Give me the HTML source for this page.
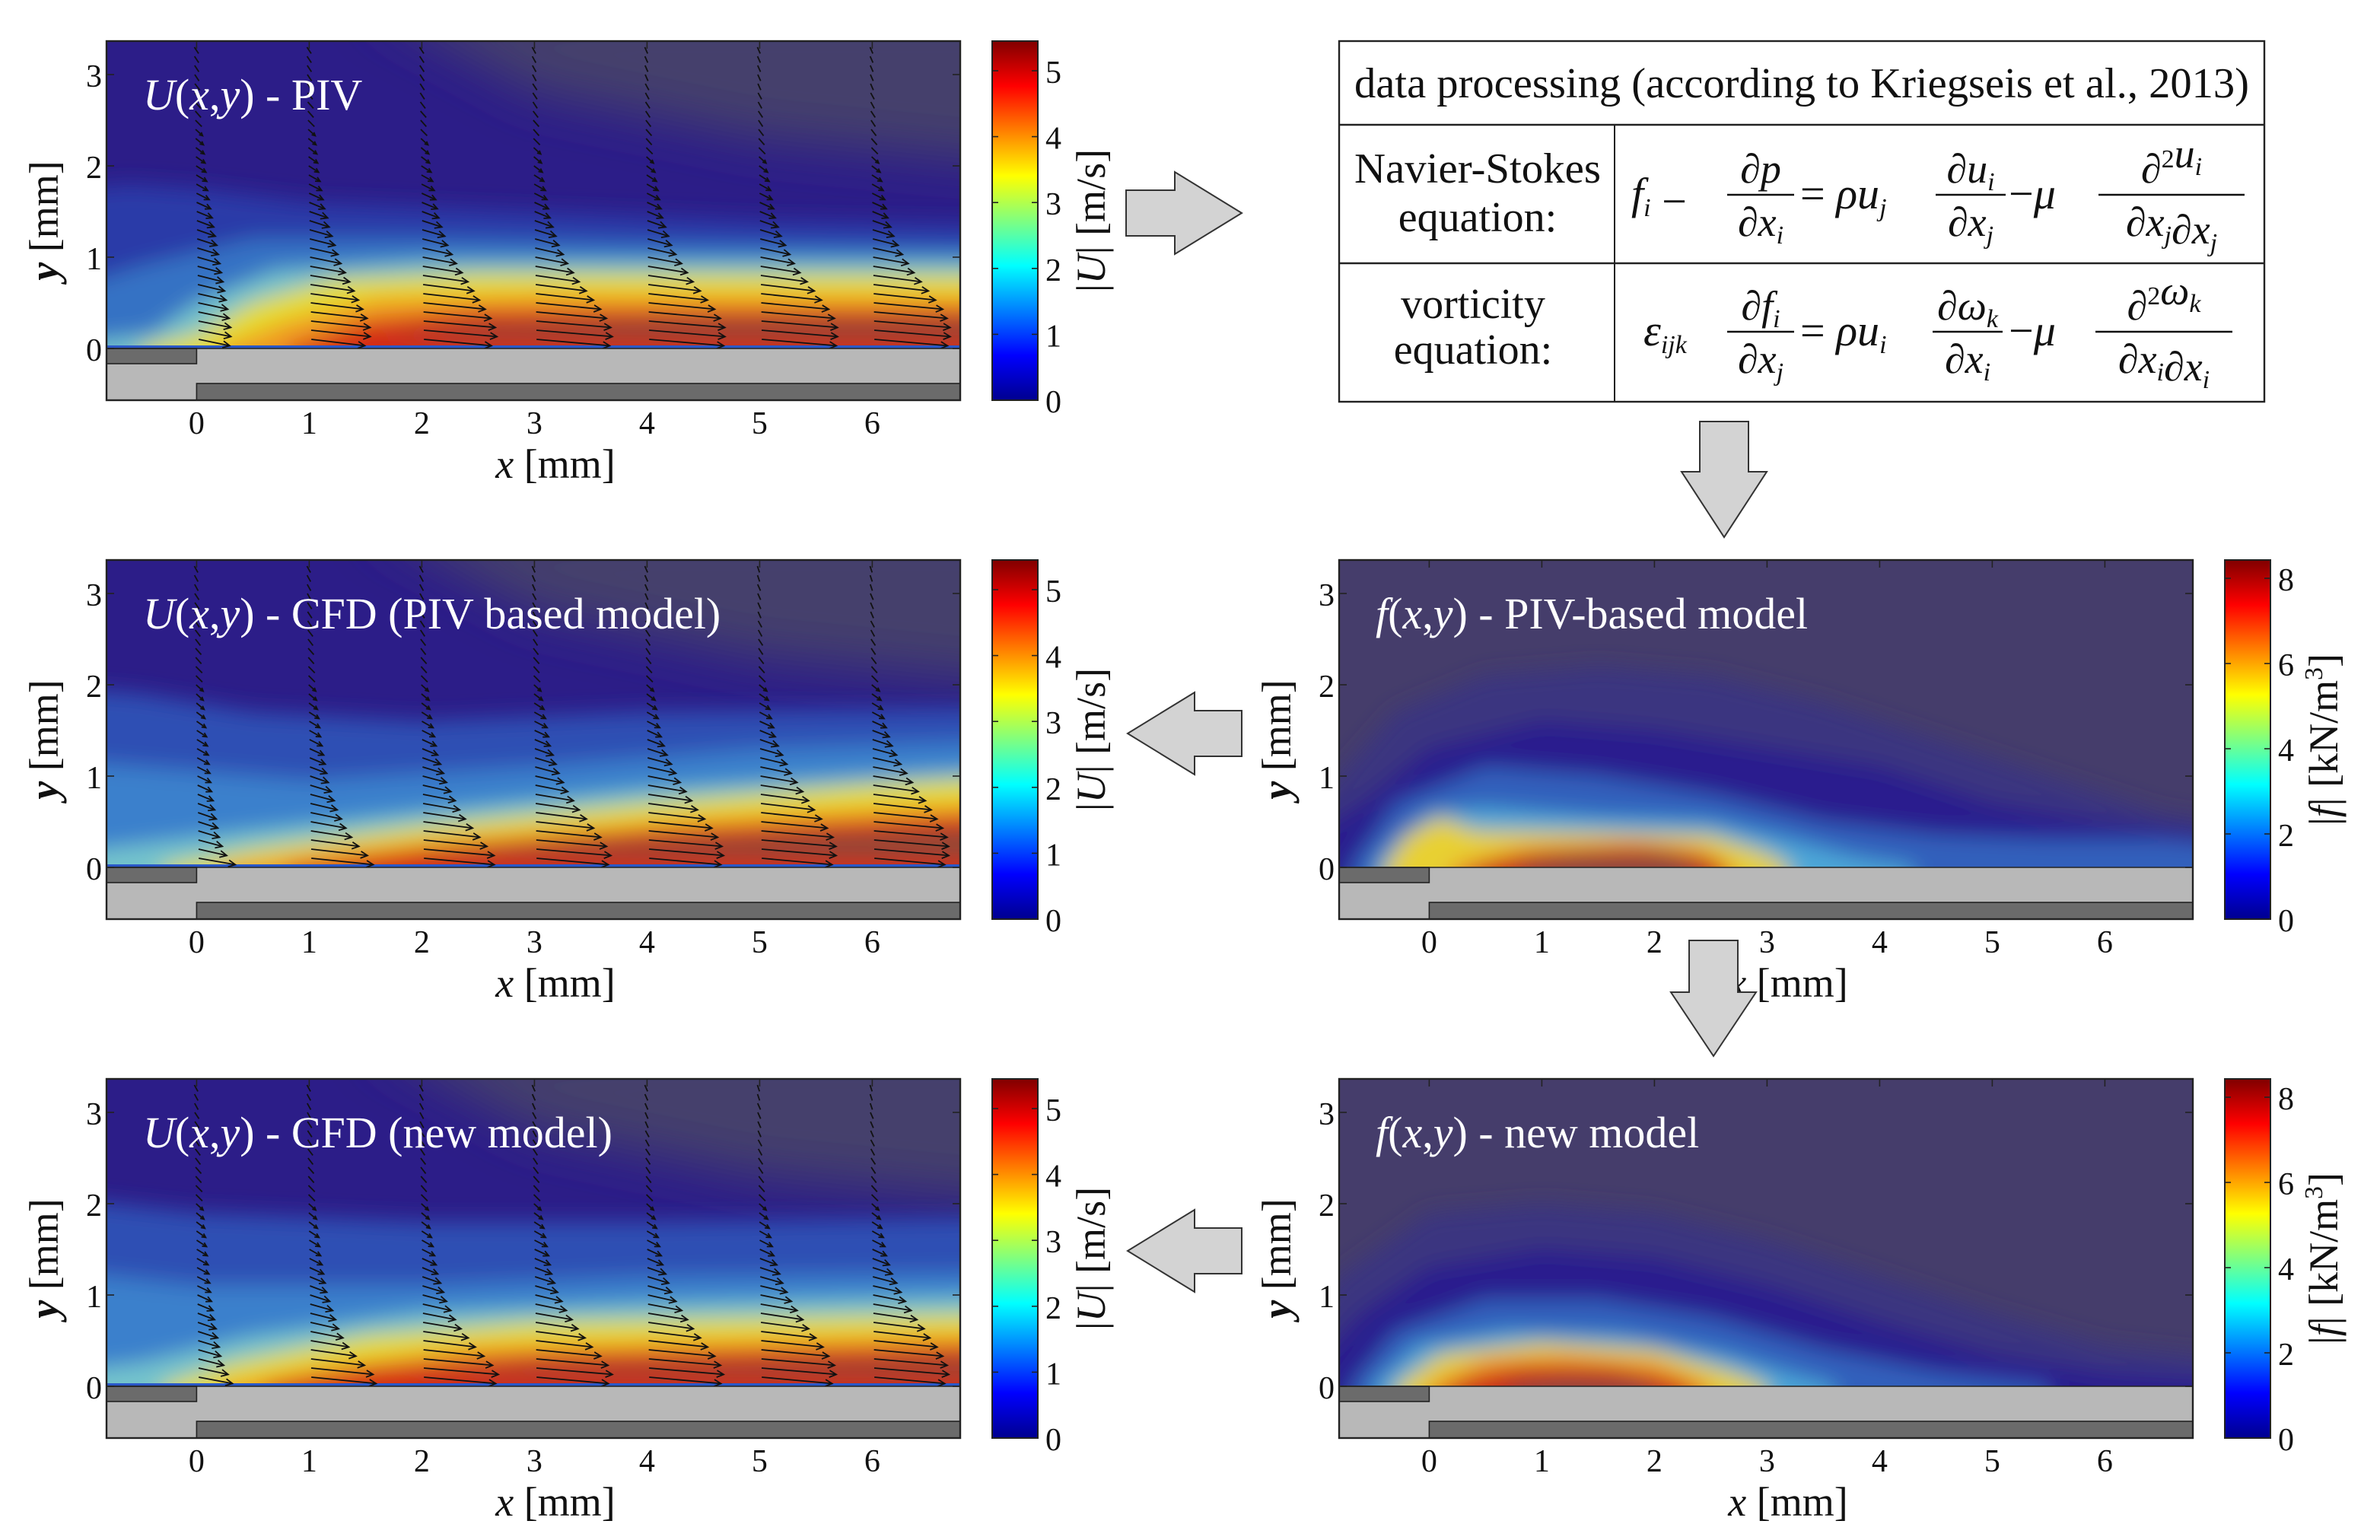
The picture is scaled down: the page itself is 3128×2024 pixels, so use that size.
<!DOCTYPE html>
<html><head><meta charset="utf-8">
<style>
html,body{margin:0;padding:0;background:#fff;}
svg{display:block;}
text{font-family:"Liberation Serif",serif;}
</style></head>
<body>
<svg id="fig" width="3128" height="2024" viewBox="0 0 1564 1012" xmlns="http://www.w3.org/2000/svg">
<defs>
<filter id="blur" x="-20%" y="-20%" width="140%" height="140%"><feGaussianBlur stdDeviation="7"/></filter>
<filter id="blur2" x="-20%" y="-20%" width="140%" height="140%"><feGaussianBlur stdDeviation="16"/></filter>
<linearGradient id="jet" x1="0" y1="1" x2="0" y2="0">
<stop offset="0" stop-color="#00008f"/><stop offset="0.125" stop-color="#0000ff"/><stop offset="0.375" stop-color="#00ffff"/><stop offset="0.625" stop-color="#ffff00"/><stop offset="0.875" stop-color="#ff0000"/><stop offset="1" stop-color="#800000"/>
</linearGradient>
</defs>
</svg>
<script>
// ---- data ----
const xTicks = [0,1,2,3,4,5,6];
const yTicks = [0,1,2,3];
const uTicks = [0,1,2,3,4,5];
const fTicks = [0,2,4,6,8];
const uMax = 5.45;
const fMax = 8.43;
const quiverX = [0,1,2,3,4,5,6];
const quiverY = [0.1,0.2,0.3,0.4,0.5,0.6,0.7,0.8,0.9,1.0,1.1,1.2,1.3,1.4,1.5,1.6,1.7,1.8,1.9,2.0,2.1,2.2,2.3,2.4,2.5,2.6,2.7,2.8,2.9,3.0,3.1,3.2,3.3];
// PIV velocity profiles (m/s), bottom to top, per column
const pivU0 = [2.2,2.3,2.3,2.2,2.1,2.0,1.9,1.8,1.7,1.6,1.5,1.4,1.3,1.2,1.1,1.0,0.9,0.8,0.75,0.7,0.65,0.6,0.55,0.5,0.45,0.4,0.4,0.35,0.35,0.3,0.3,0.3,0.3];
const pivU1 = [3.8,4.2,4.2,4.0,3.7,3.4,3.1,2.8,2.5,2.2,2.0,1.8,1.6,1.4,1.3,1.1,1.0,0.9,0.8,0.7,0.65,0.6,0.55,0.5,0.45,0.4,0.4,0.35,0.3,0.3,0.3,0.3,0.3];
const pivU2 = [4.8,5.2,5.1,4.8,4.4,4.0,3.6,3.2,2.8,2.4,2.1,1.8,1.6,1.4,1.2,1.1,1.0,0.9,0.8,0.7,0.6,0.55,0.5,0.45,0.4,0.4,0.35,0.3,0.3,0.3,0.3,0.3,0.3];
const pivU3 = [5.2,5.4,5.3,5.0,4.6,4.1,3.6,3.1,2.7,2.3,2.0,1.7,1.5,1.3,1.1,1.0,0.9,0.8,0.7,0.6,0.55,0.5,0.45,0.4,0.4,0.35,0.3,0.3,0.3,0.25,0.25,0.25,0.25];
const pivU4 = [5.3,5.4,5.4,5.1,4.7,4.2,3.7,3.2,2.8,2.4,2.0,1.7,1.5,1.3,1.1,1.0,0.9,0.8,0.7,0.6,0.5,0.45,0.4,0.4,0.35,0.3,0.3,0.25,0.25,0.2,0.2,0.2,0.2];
const pivU5 = [5.3,5.4,5.4,5.2,4.8,4.3,3.8,3.3,2.8,2.4,2.1,1.8,1.5,1.3,1.1,1.0,0.9,0.8,0.7,0.6,0.5,0.45,0.4,0.35,0.3,0.3,0.25,0.25,0.2,0.2,0.2,0.2,0.2];
const pivU6 = [5.2,5.4,5.4,5.2,4.9,4.4,3.9,3.4,2.9,2.5,2.1,1.8,1.5,1.3,1.1,1.0,0.9,0.8,0.7,0.6,0.5,0.45,0.4,0.35,0.3,0.3,0.25,0.25,0.2,0.2,0.2,0.2,0.2];
// CFD (PIV based model)
const cfdAU0 = [2.6,2.0,1.7,1.5,1.4,1.3,1.2,1.1,1.0,0.95,0.9,0.85,0.8,0.75,0.7,0.65,0.6,0.55,0.5,0.5,0.45,0.45,0.4,0.4,0.35,0.35,0.3,0.3,0.3,0.3,0.25,0.25,0.25];
const cfdAU1 = [4.4,4.0,3.4,2.9,2.5,2.2,1.9,1.7,1.5,1.3,1.2,1.1,1.0,0.9,0.8,0.75,0.7,0.6,0.55,0.5,0.45,0.45,0.4,0.4,0.35,0.35,0.3,0.3,0.3,0.25,0.25,0.25,0.25];
const cfdAU2 = [5.0,5.0,4.5,4.0,3.5,3.0,2.6,2.3,2.0,1.7,1.5,1.3,1.1,1.0,0.9,0.8,0.7,0.6,0.55,0.5,0.45,0.4,0.4,0.35,0.35,0.3,0.3,0.3,0.25,0.25,0.25,0.25,0.25];
const cfdAU3 = [5.1,5.3,5.0,4.6,4.1,3.6,3.1,2.7,2.3,2.0,1.7,1.5,1.3,1.1,1.0,0.9,0.8,0.7,0.6,0.5,0.45,0.4,0.4,0.35,0.3,0.3,0.3,0.25,0.25,0.25,0.2,0.2,0.2];
const cfdAU4 = [5.1,5.3,5.2,4.9,4.5,4.0,3.5,3.1,2.7,2.3,2.0,1.7,1.4,1.2,1.0,0.9,0.8,0.7,0.6,0.5,0.45,0.4,0.35,0.3,0.3,0.3,0.25,0.25,0.2,0.2,0.2,0.2,0.2];
const cfdAU5 = [5.0,5.3,5.3,5.1,4.7,4.3,3.8,3.4,3.0,2.6,2.2,1.9,1.6,1.3,1.1,1.0,0.85,0.75,0.65,0.55,0.45,0.4,0.35,0.3,0.3,0.25,0.25,0.2,0.2,0.2,0.2,0.15,0.15];
const cfdAU6 = [5.0,5.3,5.3,5.2,4.9,4.5,4.1,3.7,3.2,2.8,2.4,2.0,1.7,1.4,1.2,1.0,0.85,0.75,0.65,0.55,0.45,0.4,0.35,0.3,0.3,0.25,0.25,0.2,0.2,0.2,0.15,0.15,0.15];
// CFD (new model)
const cfdBU0 = [2.4,2.1,1.8,1.6,1.5,1.4,1.3,1.2,1.1,1.0,0.95,0.9,0.85,0.8,0.75,0.7,0.65,0.6,0.55,0.5,0.45,0.45,0.4,0.4,0.35,0.35,0.3,0.3,0.3,0.3,0.25,0.25,0.25];
const cfdBU1 = [4.6,4.4,3.8,3.2,2.7,2.3,2.0,1.8,1.6,1.4,1.2,1.1,1.0,0.9,0.8,0.75,0.7,0.6,0.55,0.5,0.45,0.45,0.4,0.4,0.35,0.35,0.3,0.3,0.3,0.25,0.25,0.25,0.25];
const cfdBU2 = [5.1,5.3,4.9,4.3,3.7,3.2,2.7,2.3,2.0,1.7,1.5,1.3,1.1,1.0,0.9,0.8,0.7,0.6,0.55,0.5,0.45,0.4,0.4,0.35,0.35,0.3,0.3,0.3,0.25,0.25,0.25,0.25,0.25];
const cfdBU3 = [5.1,5.4,5.1,4.6,4.0,3.5,3.0,2.6,2.2,1.9,1.6,1.4,1.2,1.1,1.0,0.9,0.8,0.7,0.6,0.5,0.45,0.4,0.4,0.35,0.3,0.3,0.3,0.25,0.25,0.25,0.2,0.2,0.2];
const cfdBU4 = [5.1,5.3,5.1,4.7,4.2,3.7,3.2,2.8,2.4,2.0,1.7,1.5,1.3,1.1,1.0,0.9,0.8,0.7,0.6,0.5,0.45,0.4,0.35,0.3,0.3,0.3,0.25,0.25,0.2,0.2,0.2,0.2,0.2];
const cfdBU5 = [5.0,5.3,5.2,4.8,4.4,3.9,3.4,3.0,2.6,2.2,1.9,1.6,1.4,1.2,1.0,0.9,0.8,0.7,0.6,0.5,0.45,0.4,0.35,0.3,0.3,0.25,0.25,0.2,0.2,0.2,0.2,0.15,0.15];
const cfdBU6 = [5.0,5.3,5.2,4.9,4.5,4.0,3.6,3.1,2.7,2.3,2.0,1.7,1.4,1.2,1.0,0.9,0.8,0.7,0.6,0.5,0.45,0.4,0.35,0.3,0.3,0.25,0.25,0.2,0.2,0.2,0.15,0.15,0.15];

const pivCols = [pivU0,pivU1,pivU2,pivU3,pivU4,pivU5,pivU6];
const cfdACols = [cfdAU0,cfdAU1,cfdAU2,cfdAU3,cfdAU4,cfdAU5,cfdAU6];
const cfdBCols = [cfdBU0,cfdBU1,cfdBU2,cfdBU3,cfdBU4,cfdBU5,cfdBU6];

// contour layer outlines (mm) per field
const lyrPIV = [
 ['#2a3aa8',[[-1.5,1.7],[-0.6,1.8],[0,1.75],[1,1.6],[3,1.5],[5,1.4],[7.5,1.35]]],
 ['#3572c4',[[-1.5,0.5],[-0.5,0.9],[0.5,1.2],[2,1.2],[4,1.15],[7.5,1.1]]],
 ['#74c4cc',[[-1.5,0],[-0.4,0.15],[0,0.5],[0.7,0.85],[2,0.95],[7.5,0.95]]],
 ['#e6dc2a',[[-0.5,0],[0,0.15],[0.5,0.5],[1.2,0.75],[2.5,0.82],[7.5,0.8]]],
 ['#f09a20',[[0.2,0],[0.8,0.3],[1.6,0.55],[3,0.6],[7.5,0.58]]],
 ['#d42a12',[[0.8,0],[1.5,0.3],[2.5,0.42],[7.5,0.42]]],
 ['#8a4a38',[[1.6,0.1],[2.5,0.25],[4,0.3],[7.5,0.3],[7.5,0.1]]]
];
const lyrCFDA = [
 ['#2e4fb4',[[-1.5,2.0],[-0.5,1.9],[0.5,1.7],[2,1.6],[4,1.7],[7.5,1.75]]],
 ['#3a80cc',[[-1.5,1.2],[-0.5,1.1],[1,0.95],[3,1.1],[5,1.3],[7.5,1.4]]],
 ['#74c4cc',[[-1.5,0.1],[-0.5,0.25],[0.5,0.4],[2,0.6],[4,0.85],[7.5,1.1]]],
 ['#e6dc2a',[[-0.3,0],[0.5,0.2],[2,0.45],[4,0.7],[6,0.9],[7.5,1.0]]],
 ['#f09a20',[[0.2,0],[1,0.15],[2.5,0.35],[4.5,0.55],[7.5,0.75]]],
 ['#d42a12',[[0.8,0],[2,0.2],[4,0.4],[7.5,0.6]]],
 ['#8a4a38',[[2,0.12],[3.5,0.25],[5.5,0.35],[7.5,0.42],[7.5,0.1]]]
];
const lyrCFDB = [
 ['#2e4fb4',[[-1.5,2.1],[0,1.9],[2,1.8],[4,1.8],[7.5,1.85]]],
 ['#3a80cc',[[-1.5,1.3],[0,1.1],[2,1.1],[4,1.2],[7.5,1.25]]],
 ['#74c4cc',[[-1.5,0.1],[-0.5,0.25],[0.5,0.55],[2,0.8],[4,0.9],[7.5,1.0]]],
 ['#e6dc2a',[[-0.3,0],[0.3,0.25],[1.5,0.55],[3,0.7],[7.5,0.8]]],
 ['#f09a20',[[0.2,0],[1,0.2],[2.5,0.45],[7.5,0.6]]],
 ['#d42a12',[[0.6,0],[1.5,0.2],[3,0.35],[7.5,0.45]]],
 ['#8a4a38',[[1.8,0.1],[3,0.2],[7.5,0.3],[7.5,0.1]]]
];
const lyrFA = [
 ['#3a3480',[[-1.5,0.2],[-0.8,1.0],[-0.3,1.7],[0.5,2.1],[1.5,2.2],[2.5,2.1],[3.5,1.8],[4.5,1.4],[5.5,1.0],[6.5,0.6],[7.5,0.4]]],
 ['#2a1e8e',[[-1.5,0],[-0.6,0.7],[0,1.3],[1,1.6],[2,1.5],[3,1.3],[4,1.1],[5,0.7],[6,0.5],[6.8,0.4],[7.5,0.3]]],
 ['#3060bc',[[-0.7,0],[-0.3,0.7],[0.5,1.1],[1.5,1.0],[2.5,0.8],[3.5,0.5],[4.5,0.35],[5.5,0.3],[6.5,0.3],[7.5,0.2]]],
 ['#4ea8d8',[[-0.5,0],[-0.3,0.3],[0,0.6],[0.5,0.65],[1.5,0.55],[2.5,0.5],[3.2,0.3],[3.8,0.1],[4.3,0]]],
 ['#e8d030',[[-0.4,0],[-0.2,0.35],[0.1,0.55],[0.4,0.4],[1.5,0.38],[2.5,0.35],[3,0.15],[3.2,0]]],
 ['#e87820',[[0.2,0],[0.8,0.2],[1.8,0.28],[2.4,0.2],[2.7,0]]],
 ['#c82818',[[0.4,0],[1,0.18],[2,0.22],[2.5,0.08],[2.6,0]]],
 ['#8a4a40',[[0.8,0],[1.3,0.12],[2.1,0.13],[2.4,0]]]
];
const lyrFB = [
 ['#3a3480',[[-1.5,0.2],[-0.8,1.2],[0,1.9],[1,2.0],[2,1.9],[3,1.6],[4,1.2],[5,0.8],[6,0.45],[7.5,0.25]]],
 ['#2a1e8e',[[-1.2,0],[-0.6,0.8],[0,1.3],[1,1.5],[2,1.4],[3,1.1],[4,0.7],[5,0.35],[6,0.15],[7.5,0.05]]],
 ['#3060bc',[[-0.7,0],[-0.3,0.6],[0.5,0.95],[1.5,0.95],[2.5,0.75],[3.5,0.4],[4.5,0.15],[5.5,0]]],
 ['#4ea8d8',[[-0.5,0],[-0.1,0.45],[0.7,0.6],[1.7,0.55],[2.6,0.35],[3.3,0.1],[3.6,0]]],
 ['#e8d030',[[-0.3,0],[0.1,0.35],[1,0.48],[2,0.4],[2.7,0.15],[3,0]]],
 ['#e87820',[[0,0],[0.5,0.28],[1.2,0.33],[2,0.25],[2.5,0]]],
 ['#c82818',[[0.2,0],[0.8,0.2],[1.6,0.2],[2.3,0]]],
 ['#8a4a40',[[0.7,0],[1.2,0.08],[1.8,0.05],[2.0,0]]]
];

// ---- rendering ----
const NS = 'http://www.w3.org/2000/svg';
const svg = document.getElementById('fig');
function mk(tag, attrs, parent){ const e=document.createElementNS(NS,tag); for(const k in attrs) e.setAttribute(k,attrs[k]); (parent||svg).appendChild(e); return e; }
function txt(s, attrs, parent){ const e=mk('text',attrs,parent); e.textContent=s; return e; }

function panel(L, T, id, kind, title, layers, cols, cbLabel){
  const g = mk('g',{});
  
  
  const sx = x => L + (x+0.8)*74;
  const sy = y => T + 202 - y*60;
  const clipId = 'clip-'+id;
  const cp = mk('clipPath',{id:clipId}, g);
  mk('rect',{x:L,y:T,width:561,height:202},cp);
  const field = mk('g',{'clip-path':'url(#'+clipId+')'}, g);
  
  
  if(kind==='U'){
    mk('rect',{x:L,y:T,width:561,height:202,fill:'#2c1d88'},field);
    mk('polygon',{points:[[1.5,3.8],[7.5,3.8],[7.5,2.0],[5,2.3],[3,2.8],[1.5,3.8]].map(p=>sx(p[0])+','+sy(p[1])).join(' '),fill:'#453f6c',filter:'url(#blur2)'},field);
  } else {
    mk('rect',{x:L,y:T,width:561,height:202,fill:'#453d6b'},field);
  }
  const lg = mk('g',{filter:'url(#blur)'},field);
  layers.forEach(([c,pts])=>{
    const last = pts[pts.length-1];
    const closeBottom = (last[0]===7.5 && last[1]===0.1);
    const poly = closeBottom ? pts.concat([[pts[0][0],0.1]]) : pts.concat([[last[0],-0.3],[pts[0][0],-0.3]]);
    const p = mk('polygon',{points:poly.map(q=>sx(q[0])+','+sy(q[1])).join(' '),fill:c},lg);
    
    
  });
  if(kind==='U') mk('rect',{x:L,y:sy(0)-2,width:561,height:2,fill:'#2a58c8'},field);
  // quiver
  if(cols){
    const qg = mk('g',{stroke:'#111','stroke-width':0.9,fill:'none'},g);
    
    
    quiverX.forEach((x0,ci)=>{
      quiverY.forEach((y0,ri)=>{
        const u = cols[ci][ri];
        const tx = x0 - 0.02 + 0.04*(3.3-y0)/3.3;
        const hx = tx + u*0.125, hy = y0 - 0.07;
        const X1=sx(tx),Y1=sy(y0),X2=sx(hx),Y2=sy(hy);
        const a = mk('line',{x1:X1,y1:Y1,x2:X2,y2:Y2},qg);
        
        
        const len=Math.hypot(X2-X1,Y2-Y1); const hs=Math.min(4.5,len*0.35);
        const ux=(X2-X1)/len, uy=(Y2-Y1)/len;
        if(len>6){
          mk('path',{d:`M${X2-hs*ux-hs*0.5*uy},${Y2-hs*uy+hs*0.5*ux} L${X2},${Y2} L${X2-hs*ux+hs*0.5*uy},${Y2-hs*uy-hs*0.5*ux}`},qg);
        }
      });
    });
  }
  // wall / electrode geometry
  mk('rect',{x:L,y:sy(0),width:561,height:34,fill:'#b8b8b8'},g);
  const e1 = mk('rect',{x:L,y:sy(0),width:sx(0)-L,height:10,fill:'#6b6b6b',stroke:'#222','stroke-width':0.8},g);
  
  
  const e2 = mk('rect',{x:sx(0),y:T+225,width:L+561-sx(0),height:11,fill:'#6b6b6b',stroke:'#222','stroke-width':0.8},g);
  
  
  mk('line',{x1:L,y1:sy(0),x2:L+561,y2:sy(0),stroke:'#222','stroke-width':0.8},g);
  // frame
  mk('rect',{x:L,y:T,width:561,height:236,fill:'none',stroke:'#222','stroke-width':1.2},g);
  // ticks
  xTicks.forEach(v=>{
    mk('line',{x1:sx(v),y1:T,x2:sx(v),y2:T+5,stroke:'#222','stroke-width':0.8},g);
    const t = txt(String(v),{x:sx(v),y:T+258,'font-size':21,'text-anchor':'middle',fill:'#111'},g);
    
    
  });
  yTicks.forEach(v=>{
    mk('line',{x1:L,y1:sy(v),x2:L+5,y2:sy(v),stroke:'#222','stroke-width':0.8},g);
    mk('line',{x1:L+561,y1:sy(v),x2:L+556,y2:sy(v),stroke:'#222','stroke-width':0.8},g);
    const t = txt(String(v),{x:L-3,y:sy(v)+8,'font-size':21,'text-anchor':'end',fill:'#111'},g);
    
    
  });
  const xl = txt('',{x:L+295,y:T+287,'font-size':27,'text-anchor':'middle',fill:'#111'},g);
  xl.innerHTML = '<tspan font-style="italic">x</tspan> [mm]';
  
  
  const yl = txt('',{x:0,y:0,'font-size':27,'text-anchor':'middle',fill:'#111',transform:`translate(${L-32},${T+118}) rotate(-90)`},g);
  yl.innerHTML = '<tspan font-style="italic" font-weight="bold">y</tspan> [mm]';
  
  
  const ti = txt('',{x:L+24,y:T+45,'font-size':29,fill:'#fff'},g);
  ti.innerHTML = title;
  
  
  // colorbar
  const cbx = L+582;
  const cb = mk('rect',{x:cbx,y:T,width:30,height:236,fill:'url(#jet)',stroke:'#222','stroke-width':1},g);
  
  
  const ticks = kind==='U'?uTicks:fTicks, mx = kind==='U'?uMax:fMax;
  ticks.forEach(v=>{
    const yy = T+236 - v/mx*236;
    mk('line',{x1:cbx,y1:yy,x2:cbx+4,y2:yy,stroke:'#222','stroke-width':0.8},g);
    mk('line',{x1:cbx+30,y1:yy,x2:cbx+26,y2:yy,stroke:'#222','stroke-width':0.8},g);
    const t = txt(String(v),{x:cbx+35,y:yy+8,'font-size':21,fill:'#111'},g);
    
    
  });
  const cl = txt('',{x:0,y:0,'font-size':27,'text-anchor':'middle',fill:'#111',transform:`translate(${L+656},${T+118}) rotate(-90)`},g);
  cl.innerHTML = cbLabel;
  
  
}

const uLab = '|<tspan font-style="italic">U</tspan>| [m/s]';
const fLab = '|<tspan font-style="italic">f</tspan>| [kN/m<tspan font-size="17" dy="-10">3</tspan><tspan dy="10">]</tspan>';
panel(70,27,'piv-panel','U','<tspan font-style="italic">U</tspan>(<tspan font-style="italic">x</tspan>,<tspan font-style="italic">y</tspan>) - PIV',lyrPIV,pivCols,uLab);
panel(70,368,'cfd-piv-model-panel','U','<tspan font-style="italic">U</tspan>(<tspan font-style="italic">x</tspan>,<tspan font-style="italic">y</tspan>) - CFD (PIV based model)',lyrCFDA,cfdACols,uLab);
panel(70,709,'cfd-new-model-panel','U','<tspan font-style="italic">U</tspan>(<tspan font-style="italic">x</tspan>,<tspan font-style="italic">y</tspan>) - CFD (new model)',lyrCFDB,cfdBCols,uLab);
panel(880,368,'force-piv-model-panel','F','<tspan font-style="italic">f</tspan>(<tspan font-style="italic">x</tspan>,<tspan font-style="italic">y</tspan>) - PIV-based model',lyrFA,null,fLab);
panel(880,709,'force-new-model-panel','F','<tspan font-style="italic">f</tspan>(<tspan font-style="italic">x</tspan>,<tspan font-style="italic">y</tspan>) - new model',lyrFB,null,fLab);

// flow arrows
function arrow(points, name){
  const p = mk('polygon',{points:points.map(q=>q.join(',')).join(' '),fill:'#d3d3d3',stroke:'#333','stroke-width':1});
  
  
}
arrow([[740,125],[772,125],[772,113],[816,140],[772,167],[772,155],[740,155]],'arrow-right');
arrow([[1117,277],[1149,277],[1149,310],[1161,310],[1133,353],[1105,310],[1117,310]],'arrow-down-1');
arrow([[816,467],[785,467],[785,455],[741,482],[785,509],[785,497],[816,497]],'arrow-left-1');
arrow([[1110,618],[1142,618],[1142,652],[1154,652],[1126,694],[1098,652],[1110,652]],'arrow-down-2');
arrow([[816,807],[785,807],[785,795],[741,822],[785,849],[785,837],[816,837]],'arrow-left-2');

// table
const tb = mk('g',{});


mk('rect',{x:880,y:27,width:608,height:237,fill:'#fff',stroke:'#222','stroke-width':1.2},tb);
mk('line',{x1:880,y1:82,x2:1488,y2:82,stroke:'#222','stroke-width':1.2},tb);
mk('line',{x1:880,y1:173,x2:1488,y2:173,stroke:'#222','stroke-width':1.2},tb);
mk('line',{x1:1061,y1:82,x2:1061,y2:264,stroke:'#222','stroke-width':1},tb);
const th = txt('data processing (according to Kriegseis et al., 2013)',{x:1184,y:64,'font-size':28,'text-anchor':'middle',fill:'#111',textLength:588,lengthAdjust:'spacingAndGlyphs'},tb);


const r1 = txt('Navier-Stokes',{x:971,y:120,'font-size':28,'text-anchor':'middle',fill:'#111',textLength:162,lengthAdjust:'spacingAndGlyphs'},tb);


txt('equation:',{x:971,y:152,'font-size':28,'text-anchor':'middle',fill:'#111'},tb);
const r2 = txt('vorticity',{x:968,y:209,'font-size':28,'text-anchor':'middle',fill:'#111'},tb);


txt('equation:',{x:968,y:239,'font-size':28,'text-anchor':'middle',fill:'#111'},tb);
function frac(cx, ly, w, num, den){
  mk('line',{x1:cx-w/2,y1:ly,x2:cx+w/2,y2:ly,stroke:'#111','stroke-width':1.2},tb);
  const a=txt('',{x:cx,y:ly-8,'font-size':27,'text-anchor':'middle',fill:'#111'},tb); a.innerHTML=num;
  const b=txt('',{x:cx,y:ly+27,'font-size':27,'text-anchor':'middle',fill:'#111'},tb); b.innerHTML=den;
}
const I = s=>'<tspan font-style="italic">'+s+'</tspan>';
const S = s=>'<tspan font-style="italic" font-size="17" dy="5">'+s+'</tspan><tspan dy="-5"></tspan>';
const P = s=>'<tspan font-size="17" dy="-10">'+s+'</tspan><tspan dy="10"></tspan>';
let e;
e=txt('',{x:1072,y:137,'font-size':29,fill:'#111'},tb); e.innerHTML=I('f')+S('i')+' −';


frac(1157,128,44,'∂'+I('p'),'∂'+I('x')+S('i'));
e=txt('',{x:1183,y:137,'font-size':29,fill:'#111'},tb); e.innerHTML='= '+I('ρu')+S('j');
frac(1295,128,46,'∂'+I('u')+S('i'),'∂'+I('x')+S('j'));
e=txt('',{x:1320,y:137,'font-size':29,fill:'#111'},tb); e.innerHTML='−'+I('μ');
frac(1427,128,96,'∂'+P('2')+I('u')+S('i'),'∂'+I('x')+S('j')+'∂'+I('x')+S('j'));
e=txt('',{x:1080,y:227,'font-size':29,fill:'#111'},tb); e.innerHTML=I('ε')+S('ijk');


frac(1157,218,44,'∂'+I('f')+S('i'),'∂'+I('x')+S('j'));
e=txt('',{x:1183,y:227,'font-size':29,fill:'#111'},tb); e.innerHTML='= '+I('ρu')+S('i');
frac(1293,218,46,'∂'+I('ω')+S('k'),'∂'+I('x')+S('i'));
e=txt('',{x:1320,y:227,'font-size':29,fill:'#111'},tb); e.innerHTML='−'+I('μ');
frac(1422,218,90,'∂'+P('2')+I('ω')+S('k'),'∂'+I('x')+S('i')+'∂'+I('x')+S('i'));
</script>
</body></html>
